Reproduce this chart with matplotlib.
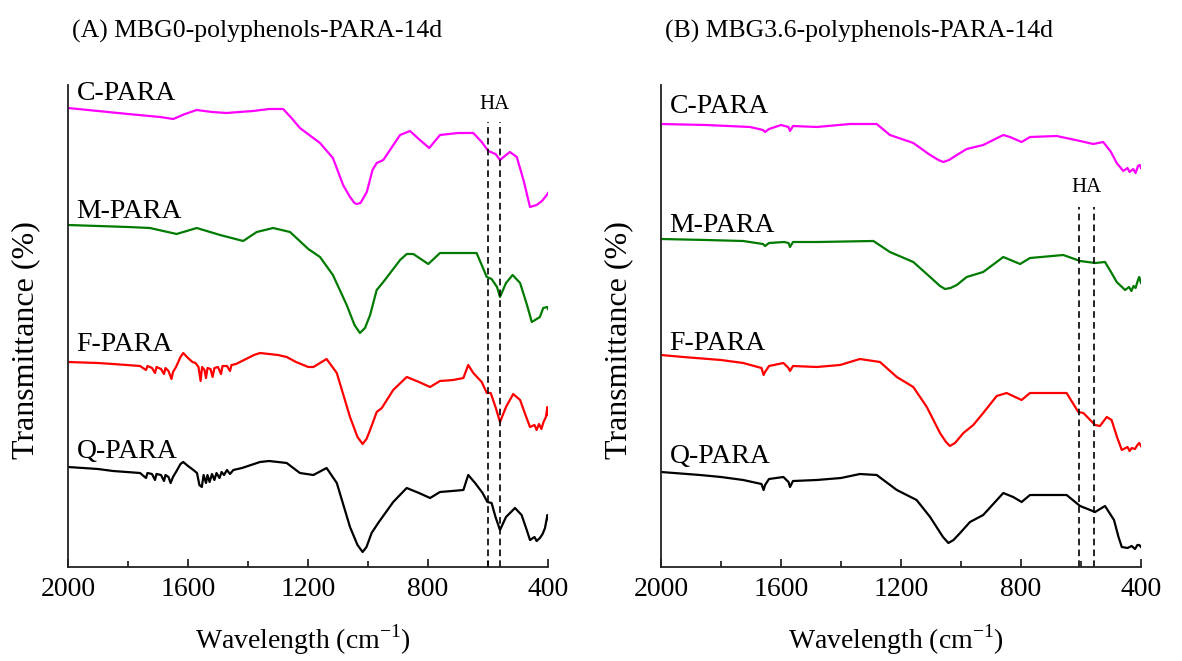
import matplotlib
matplotlib.use('Agg')
import matplotlib.pyplot as plt
from matplotlib.ticker import MultipleLocator

plt.rcParams['font.family'] = ['Liberation Serif', 'DejaVu Serif']
plt.rcParams['mathtext.fontset'] = 'custom'
plt.rcParams['mathtext.rm'] = 'Liberation Serif'

# ---- data (wavenumber cm-1, transmittance a.u.) ----
# (A) MBG0-polyphenols-PARA-14d
a_c_wn = [2000, 1900, 1800, 1693, 1649, 1610, 1571, 1520, 1471, 1430, 1383, 1330, 1283,
          1255, 1227, 1160, 1117, 1083, 1060, 1045, 1038, 1025, 1004, 985, 971, 949, 920,
          893, 860, 827, 796, 760, 700, 649, 621, 599, 575, 560, 540, 527, 504, 480, 460,
          438, 420, 404, 400]
a_c_t = [459, 456, 453, 450, 448, 453, 457, 455, 454, 455, 456, 458, 458,
         449, 439, 424, 409, 382, 370, 364, 363, 364, 375, 397, 404, 407, 420,
         432, 436, 427, 419, 432, 434, 434, 425, 416, 413, 407, 412, 415, 410, 385, 360,
         362, 366, 372, 374]

a_m_wn = [2000, 1900, 1800, 1727, 1638, 1571, 1493, 1416, 1371, 1316, 1260, 1199,
          1160, 1117, 1071, 1045, 1027, 1010, 993, 971, 949, 893, 871, 849, 799, 760,
          700, 638, 604, 588, 570, 560, 540, 518, 493, 470, 454, 427, 416, 402, 400]
a_m_t = [342, 341, 340, 339, 333, 339, 332, 326, 335, 339, 335, 318,
         310, 292, 262, 242, 234, 239, 252, 277, 285, 307, 313, 313, 303, 314,
         314, 314, 290, 288, 280, 270, 284, 292, 284, 262, 245, 250, 259, 260, 258]

a_f_wn = [2000, 1900, 1850, 1804, 1760, 1740, 1735, 1720, 1710, 1705, 1690, 1680, 1675,
          1665, 1655, 1650, 1640, 1625, 1616, 1600, 1585, 1575, 1565, 1558, 1553, 1545,
          1540, 1535, 1525, 1518, 1512, 1500, 1490, 1485, 1470, 1460, 1455, 1440, 1420,
          1400, 1380, 1360, 1330, 1300, 1271, 1240, 1199, 1182, 1138, 1104, 1060, 1035,
          1018, 1005, 993, 971, 954, 916, 871, 830, 793, 760, 716, 682, 666, 649, 621,
          604, 591, 575, 560, 540, 516, 493, 475, 460, 445, 438, 430, 422, 415, 407, 402,
          400]
a_f_t = [205, 204, 203, 202, 201, 197, 201, 199, 194, 200, 198, 193, 199,
         196, 188, 195, 200, 210, 214, 209, 205, 204, 200, 186, 200, 197,
         189, 199, 198, 190, 199, 200, 193, 201, 201, 196, 202, 203, 206,
         209, 212, 214, 213, 212, 210, 205, 200, 200, 208, 194, 150, 130,
         123, 128, 137, 155, 159, 177, 190, 185, 180, 186, 187, 189, 202, 194, 185,
         174, 174, 160, 145, 160, 173, 167, 152, 140, 142, 137, 143, 138, 145, 150, 160,
         152]

a_q_wn = [2000, 1900, 1850, 1804, 1760, 1740, 1735, 1720, 1710, 1705, 1690, 1680, 1675,
          1665, 1658, 1650, 1640, 1625, 1616, 1600, 1582, 1570, 1562, 1554, 1548, 1540,
          1535, 1528, 1520, 1512, 1505, 1495, 1488, 1480, 1470, 1460, 1449, 1420, 1400,
          1360, 1330, 1300, 1271, 1227, 1182, 1138, 1104, 1060, 1035, 1018, 1005, 988,
          966, 916, 871, 830, 793, 760, 720, 682, 666, 643, 618, 602, 588, 575, 560, 540,
          510, 488, 472, 460, 445, 438, 427, 418, 410, 402, 400]
a_q_t = [100, 98, 96, 95, 94, 89, 94, 93, 87, 93, 92, 86, 92,
         90, 84, 90, 95, 103, 105, 101, 97, 94, 82, 80, 92, 84,
         92, 85, 93, 87, 94, 89, 95, 92, 97, 93, 97, 99, 101,
         105, 106, 105, 104, 94, 92, 99, 84, 40, 22, 15, 20, 34,
         44, 65, 79, 74, 69, 75, 76, 77, 92, 84, 74, 65, 64, 50, 37, 50,
         59, 52, 38, 27, 30, 26, 29, 33, 39, 52, 48]

# (B) MBG3.6-polyphenols-PARA-14d
b_c_wn = [2000, 1850, 1703, 1660, 1653, 1640, 1600, 1575, 1570, 1560, 1481, 1370, 1281,
          1237, 1159, 1103, 1075, 1059, 1040, 1014, 981, 926, 859, 837, 798, 770, 681,
          603, 559, 526, 500, 481, 459, 445, 438, 426, 418, 410, 404, 400]
b_c_t = [443, 442, 440, 437, 435, 438, 442, 440, 436, 441, 440, 443, 443,
         432, 424, 412, 407, 405, 407, 412, 418, 422, 432, 430, 425, 430, 431,
         426, 423, 425, 415, 404, 396, 399, 395, 398, 394, 401, 402, 399]

b_m_wn = [2000, 1850, 1726, 1660, 1653, 1640, 1590, 1575, 1570, 1560, 1481, 1292,
          1237, 1159, 1103, 1070, 1053, 1035, 1014, 981, 926, 859, 803, 770, 659, 603,
          553, 520, 500, 481, 453, 440, 432, 425, 418, 410, 406, 400]
b_m_t = [328, 327, 326, 323, 321, 324, 325, 324, 320, 325, 325, 326,
         315, 305, 290, 281, 278, 279, 282, 290, 295, 310, 303, 309, 312, 306,
         304, 305, 295, 285, 277, 280, 276, 281, 279, 287, 290, 284]

b_f_wn = [2000, 1926, 1800, 1726, 1665, 1658, 1653, 1640, 1592, 1575, 1570, 1560, 1481,
          1403, 1337, 1270, 1214, 1159, 1114, 1070, 1050, 1037, 1020, 992, 959, 926, 881,
          848, 798, 770, 648, 609, 592, 553, 537, 514, 498, 480, 464, 445, 438, 431, 420,
          412, 406, 400]
b_f_t = [212, 210, 207, 204, 199, 192, 195, 201, 204, 199, 196, 201, 200,
         202, 208, 205, 190, 180, 160, 134, 125, 121, 124, 134, 142, 154, 171,
         174, 167, 174, 174, 155, 154, 142, 141, 150, 147, 130, 117, 120, 116, 119, 118,
         122, 124, 121]

b_q_wn = [2000, 1870, 1800, 1726, 1665, 1658, 1653, 1640, 1592, 1575, 1570, 1560, 1481,
          1400, 1337, 1281, 1214, 1148, 1103, 1060, 1042, 1025, 1003, 970, 926, 859,
          826, 798, 770, 648, 603, 553, 520, 490, 475, 464, 445, 431, 420, 412, 406, 400]
b_q_t = [95, 92, 90, 87, 83, 77, 82, 88, 90, 85, 80, 86, 87,
         89, 93, 92, 77, 67, 50, 30, 24, 27, 34, 45, 52, 74,
         70, 65, 72, 72, 61, 55, 61, 47, 30, 20, 19, 21, 18, 22, 22, 20]

names = ['C-PARA', 'M-PARA', 'F-PARA', 'Q-PARA']
colors = ['#ff00ff', '#007a00', '#ff0000', '#000000']

a_label_t = [467, 349, 216, 109]
b_label_t = [454, 335, 217, 104]

# HA reference bands
a_ha = [600, 560]
b_ha = [608, 556]


def draw_panel(ax, series, label_t, ha_lines, ha_top, ha_text_t, title_x, title):
    for (wn, t), name, c, lt in zip(series, names, colors, label_t):
        ax.plot(wn, t, color=c, lw=1.6)
        ax.text(1972, lt, name, fontsize=20, ha='left', va='baseline')

    for w in ha_lines:
        ax.plot([w, w], [0, ha_top], color='black', lw=1.2, ls=(0, (4, 2.5)))
    ax.text(sum(ha_lines) / 2, ha_text_t, 'HA', fontsize=15, ha='center', va='center')

    ax.set_xlim(2000, 400)
    ax.set_ylim(0, 482)
    ax.xaxis.set_major_locator(MultipleLocator(400))
    ax.xaxis.set_minor_locator(MultipleLocator(200))
    ax.tick_params(axis='x', which='both', direction='in', labelsize=20, pad=7, width=1.1)
    ax.tick_params(axis='x', which='major', length=6)
    ax.tick_params(axis='x', which='minor', length=4)
    ax.set_yticks([])
    for side in ['top', 'right']:
        ax.spines[side].set_visible(False)
    for side in ['left', 'bottom']:
        ax.spines[side].set_linewidth(1.3)
        ax.spines[side].set_color('#222222')

    ax.set_xlabel(r'Wavelength (cm$^{\mathregular{-1}}$)', fontsize=20)
    ax.xaxis.set_label_coords(0.49, -0.115)
    ax.set_ylabel('Transmittance (%)', fontsize=23)
    ax.yaxis.set_label_coords(-0.058, 0.47)
    fig.text(title_x, 0.952, title, fontsize=18.5, ha='left', va='center')


fig = plt.figure(figsize=(11.82, 6.61), dpi=100)
ax_a = fig.add_axes([68 / 1182, 1 - 567 / 661, 480 / 1182, 482 / 661])
ax_b = fig.add_axes([661 / 1182, 1 - 567 / 661, 480 / 1182, 482 / 661])

draw_panel(ax_a,
           [(a_c_wn, a_c_t), (a_m_wn, a_m_t), (a_f_wn, a_f_t), (a_q_wn, a_q_t)],
           a_label_t, a_ha, 445, 462, 72 / 1182, '(A) MBG0-polyphenols-PARA-14d')
draw_panel(ax_b,
           [(b_c_wn, b_c_t), (b_m_wn, b_m_t), (b_f_wn, b_f_t), (b_q_wn, b_q_t)],
           b_label_t, b_ha, 360, 380, 665 / 1182, '(B) MBG3.6-polyphenols-PARA-14d')

fig.savefig('out.png', dpi=100)
